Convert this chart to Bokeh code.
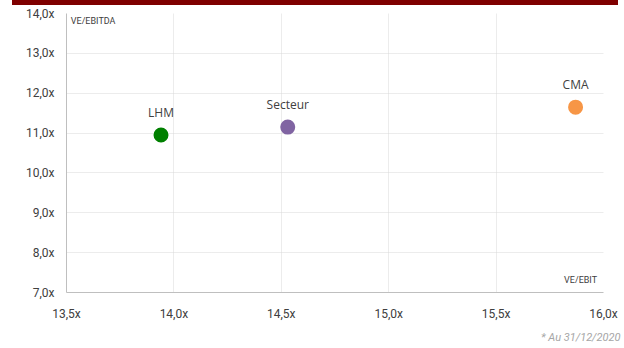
from bokeh.plotting import figure
from bokeh.models import ColumnDataSource, Label, Div, FixedTicker, CustomJSTickFormatter, Title
from bokeh.layouts import column
from bokeh.embed import file_html
from bokeh.resources import INLINE
from bokeh.core.properties import value

names = ["LHM", "Secteur", "CMA"]
ve_ebit = [13.94, 14.53, 15.87]
ve_ebitda = [10.95, 11.15, 11.65]
colors = ["#008000", "#8064A2", "#F79646"]
x_ticks = [13.5, 14.0, 14.5, 15.0, 15.5, 16.0]
y_ticks = [7.0, 8.0, 9.0, 10.0, 11.0, 12.0, 13.0, 14.0]

src = ColumnDataSource(dict(x=ve_ebit, y=ve_ebitda, name=names, color=colors))

p = figure(width=624, height=343, output_backend="svg", toolbar_location=None,
           x_range=(13.5, 16.0), y_range=(7.0, 14.0),
           min_border_left=66, min_border_right=21, min_border_top=8, min_border_bottom=51,
           margin=(0, 0, 0, 0))
p.outline_line_color = None
p.background_fill_color = "white"

for ax, ticks in ((p.xaxis[0], x_ticks), (p.yaxis[0], y_ticks)):
    ax.ticker = FixedTicker(ticks=ticks)
    ax.formatter = CustomJSTickFormatter(code="return tick.toFixed(1).replace('.', ',') + 'x';")
    ax.major_tick_line_color = None
    ax.minor_tick_line_color = None
    ax.axis_line_color = "#bfbfbf"
    ax.major_label_text_font = "Roboto"
    ax.major_label_text_font_size = "12px"
    ax.major_label_text_color = "#404040"

p.xaxis.major_label_standoff = 8
p.yaxis.major_label_standoff = 6

p.xgrid.ticker = FixedTicker(ticks=x_ticks)
p.ygrid.ticker = FixedTicker(ticks=y_ticks)
for g in (p.xgrid[0], p.ygrid[0]):
    g.grid_line_color = "#d9d9d9"
    g.grid_line_dash = "1 1"

p.scatter("x", "y", source=src, size=15, color="color", line_color=None)
p.text("x", "y", text="name", source=src, text_align="center", text_baseline="bottom",
       y_offset=-14, text_font=value("Open Sans"), text_font_size="12px", text_color="#404040")

p.add_layout(Label(x=13.52, y=13.93, text="VE/EBITDA", text_font="Roboto",
                   text_font_size="9px", text_color="#404040", text_baseline="top"))
p.add_layout(Label(x=15.97, y=7.2, text="VE/EBIT", text_font="Roboto",
                   text_font_size="9px", text_color="#404040", text_align="right",
                   text_baseline="bottom"))
p.add_layout(Title(text="* Au 31/12/2020", align="right", offset=-17, text_font="Roboto",
                   text_font_size="11px", text_color="#a6a6a6", text_font_style="italic",
                   standoff=10), "below")

band = Div(text="", width=606, height=5, margin=(0, 0, 0, 12),
           styles={"background-color": "#7f0000"})
layout = column(band, p, spacing=0)

open("out.html", "w").write(file_html(layout, INLINE))
